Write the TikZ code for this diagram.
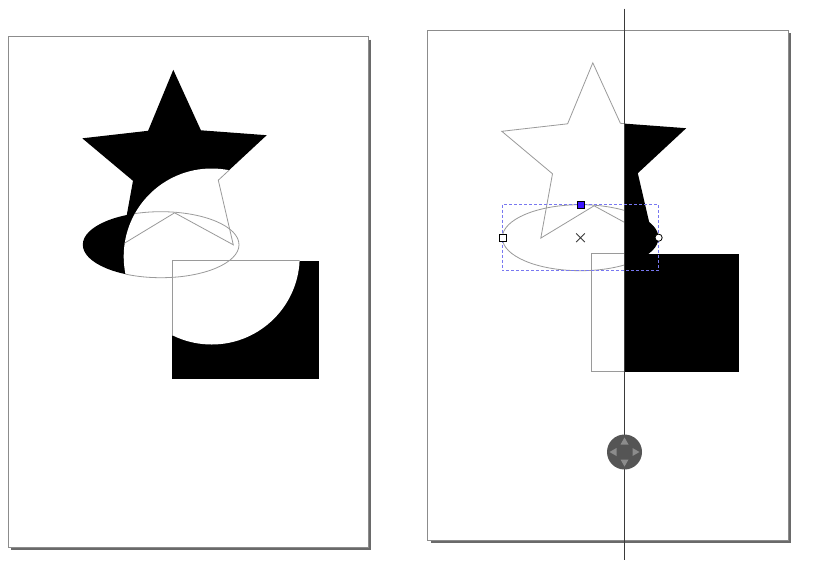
\documentclass[tikz,border=0pt]{standalone}
\definecolor{pageedge}{HTML}{8C8C8C}
\definecolor{pageshadow}{HTML}{6A6A6A}
\definecolor{outlinec}{HTML}{9A9A9A}
\definecolor{selc}{RGB}{120,120,240}
\definecolor{handleblue}{RGB}{60,20,255}
\definecolor{navdisc}{HTML}{555555}
\definecolor{navtri}{HTML}{8C8C8C}
\definecolor{guidec}{HTML}{3A3A3A}
\tikzset{
  starpath/.style={insert path={(173.3,69.8) -- (200.9,130.3) -- (266.7,135.2) -- (218.3,180.2) -- (233.3,244.8) -- (174.6,212.8) -- (121.3,245.1) -- (133,180.8) -- (82.3,138.3) -- (148.1,130.8) -- cycle}},
  ellpath/.style={insert path={(160.9,244.7) ellipse [x radius=78.1pt, y radius=33pt]}},
  rectpath/.style={insert path={(172.3,260.5) rectangle (319,378.6)}},
  circpath/.style={insert path={(211.7,256.5) circle [radius=88pt]}},
  outl/.style={draw=outlinec, line width=0.8pt},
  pageframe/.style={draw=pageedge, line width=1pt},
  pageshade/.style={draw=pageshadow, line width=2.4pt},
}
\begin{document}
\begin{tikzpicture}[x=1pt,y=-1pt]
\useasboundingbox (0,0) rectangle (813,560);
\fill[white] (0,0) rectangle (813,560);

% ---------- left page ----------
\draw[pageshade] (369.6,39.5) -- (369.6,548.6) -- (11,548.6);
\draw[pageframe] (8.3,36.7) rectangle (368.3,547.3);
\fill[black, starpath];
\fill[black, ellpath];
\fill[black, rectpath];
\fill[white, circpath];
\begin{scope}
  \clip[circpath];
  \path[outl, starpath];
  \path[outl, ellpath];
  \path[outl, rectpath];
\end{scope}

% ---------- right page ----------
\draw[pageshade] (789.3,33) -- (789.3,542) -- (430.5,542);
\draw[pageframe] (427.3,30) rectangle (788,540.7);
\begin{scope}[shift={(419.5,-7)}]
  \begin{scope}
    \clip (205,0) rectangle (400,600);
    \fill[black, starpath];
    \fill[black, ellpath];
    \fill[black, rectpath];
  \end{scope}
  \begin{scope}
    \clip (0,0) rectangle (205,600);
    \path[outl, starpath];
    \path[outl, ellpath];
    \path[outl, rectpath];
  \end{scope}
\end{scope}

% guide line
\draw[guidec, line width=1pt] (624.5,8.5) -- (624.5,560);

% selection decorations
\draw[selc, line width=0.9pt, dash pattern=on 3pt off 2pt] (502.4,204.7) rectangle (658.6,270.7);
\draw[guidec, line width=0.8pt] (576.2,233.4) -- (584.8,242) (576.2,242) -- (584.8,233.4);
\filldraw[fill=handleblue, draw=black, line width=0.8pt] (577,201.2) rectangle (584,208.2);
\filldraw[fill=white, draw=black, line width=0.8pt] (498.9,234.2) rectangle (505.9,241.2);
\filldraw[fill=white, draw=black, line width=0.8pt] (658.6,237.7) circle [radius=3.6pt];

% navigation control
\fill[navdisc] (624.5,452) circle [radius=17.5pt];
\fill[navtri] (624.5,437.5) -- (620.5,444.5) -- (628.5,444.5) -- cycle;
\fill[navtri] (624.5,466.5) -- (620.5,459.5) -- (628.5,459.5) -- cycle;
\fill[navtri] (609.5,452) -- (616.5,448) -- (616.5,456) -- cycle;
\fill[navtri] (639.5,452) -- (632.5,448) -- (632.5,456) -- cycle;
\end{tikzpicture}
\end{document}
